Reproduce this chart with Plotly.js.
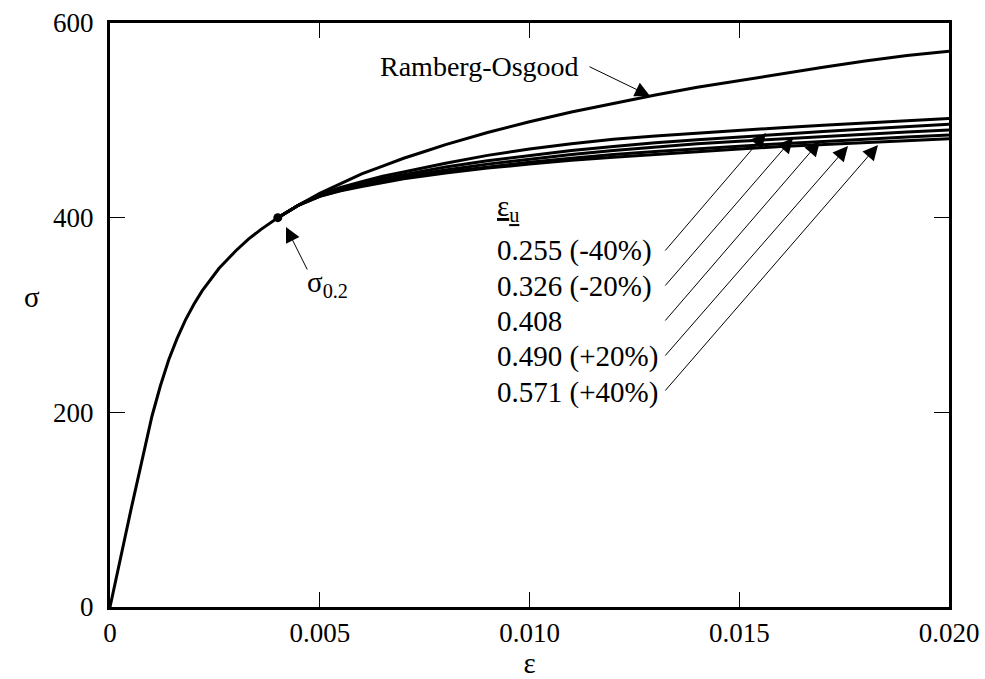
<!DOCTYPE html>
<html>
<head>
<meta charset="utf-8">
<script src="https://cdn.plot.ly/plotly-3.0.1.min.js"></script>
<style>html,body{margin:0;padding:0;background:#fff;}</style>
</head>
<body>
<div id="chart" style="width:985px;height:679px;"></div>
<script>
// Ramberg-Osgood curve (strain, stress)
const epsRO = [0, 0.0005, 0.001, 0.0012, 0.0014, 0.0016, 0.0018, 0.002, 0.0022, 0.0024, 0.0026, 0.0028, 0.003, 0.0033, 0.0036, 0.004, 0.0045, 0.005, 0.0055, 0.006, 0.0065, 0.007, 0.0075, 0.008, 0.009, 0.010, 0.011, 0.012, 0.013, 0.014, 0.015, 0.016, 0.017, 0.018, 0.019, 0.020];
const sigRO = [0, 100, 196, 227, 254, 276, 295, 311, 325, 337, 348, 357, 366, 378, 388, 400, 413, 425, 435, 445, 453, 461, 468, 475, 487.5, 498.5, 508.5, 517.5, 526, 534, 541, 548, 554.5, 561, 566.5, 571];

// Curves for different eps_u (shared strain grid)
const epsU = [0.004, 0.0045, 0.005, 0.0055, 0.006, 0.0065, 0.007, 0.008, 0.009, 0.010, 0.011, 0.012, 0.013, 0.014, 0.015, 0.016, 0.017, 0.018, 0.019, 0.020];
const sigA = [400, 413, 424, 431, 437, 442.5, 447, 456, 464, 470.5, 476, 480.5, 484, 487, 490, 492.5, 495, 497.5, 500, 502];
const sigB = [400, 413, 423, 430, 435, 440, 444, 452, 458.5, 464, 469, 473, 477, 480, 483, 486, 488.5, 491, 493.5, 496];
const sigC = [400, 413, 423, 429, 434, 438.5, 442, 449, 455, 460, 465, 469, 472.5, 476, 478.5, 481, 483.5, 486, 488, 490];
const sigD = [400, 413, 422, 428, 433, 437, 441, 447, 452, 457, 461, 465, 468, 471, 473.5, 476, 478.5, 481, 483, 485];
const sigE = [400, 413, 422, 427.5, 432, 436, 440, 446, 451, 455, 459, 462, 465, 468, 470.5, 473, 475, 477, 479, 481];

// 0.2% proof stress point
const proofEps = [0.004];
const proofSig = [400];

// Labels
const epsULabels = ["0.255 (-40%)", "0.326 (-20%)", "0.408", "0.490 (+20%)", "0.571 (+40%)"];
const xTickVals = [0, 0.005, 0.010, 0.015, 0.020];
const xTickText = ["0", "0.005", "0.010", "0.015", "0.020"];
const yTickVals = [0, 200, 400, 600];
const yTickText = ["0", "200", "400", "600"];

const FONT = "Liberation Serif, Times New Roman, serif";
const lineStyle = {color: "#000", width: 3};

const traces = [
  {x: epsRO, y: sigRO, mode: "lines", line: lineStyle, hoverinfo: "skip"},
  {x: epsU, y: sigA, mode: "lines", line: lineStyle, hoverinfo: "skip"},
  {x: epsU, y: sigB, mode: "lines", line: lineStyle, hoverinfo: "skip"},
  {x: epsU, y: sigC, mode: "lines", line: lineStyle, hoverinfo: "skip"},
  {x: epsU, y: sigD, mode: "lines", line: lineStyle, hoverinfo: "skip"},
  {x: epsU, y: sigE, mode: "lines", line: lineStyle, hoverinfo: "skip"},
  {x: proofEps, y: proofSig, mode: "markers", marker: {color: "#000", size: 9}, hoverinfo: "skip"}
];

// pixel helpers for annotation placement (plot area 110..949 x, 23..607 y)
function ex(px) { return (px - 110) / 41950; }
function sy(py) { return (607 - py) / 0.97333; }

const annotations = [];
function arrow(hx, hy, tx, ty) {
  annotations.push({
    x: ex(hx), y: sy(hy), xref: "x", yref: "y",
    ax: ex(tx), ay: sy(ty), axref: "x", ayref: "y",
    text: "", showarrow: true, arrowhead: 2, arrowsize: 3, arrowwidth: 1,
    arrowcolor: "#000", standoff: 0, startstandoff: 0
  });
}
function label(text, px, py, anchor, size) {
  annotations.push({
    x: ex(px), y: sy(py), xref: "x", yref: "y", text: text, showarrow: false,
    xanchor: anchor, yanchor: "middle", font: {family: FONT, size: size, color: "#000"}
  });
}

// Ramberg-Osgood label + arrow
label("Ramberg-Osgood", 479, 66, "center", 28);
arrow(650, 96, 588, 66);
// sigma_0.2
label("σ<sub>0.2</sub>", 305, 284, "left", 29);
arrow(286, 227, 308, 271);
// eps_u header
label("<u>ε<sub>u</sub></u>", 495, 208, "left", 29);
const labelY = [250, 286, 321, 356, 392];
const headX = [766, 793, 820, 848, 878];
const headY = [133, 138, 141, 146, 145];
const tailY = [252, 287, 322, 357, 392];
for (let i = 0; i < epsULabels.length; i++) {
  label(epsULabels[i], 495, labelY[i], "left", 29);
  arrow(headX[i], headY[i], 664, tailY[i]);
}
// y-axis title (upright sigma)
annotations.push({
  x: -0.093, y: 0.53, xref: "paper", yref: "paper", text: "σ", showarrow: false,
  xanchor: "center", yanchor: "middle", font: {family: FONT, size: 29, color: "#000"}
});

const axisCommon = {
  showline: true, linewidth: 3, linecolor: "#000", mirror: "ticks",
  ticks: "inside", ticklen: 15, tickwidth: 1, tickcolor: "#000",
  showgrid: false, zeroline: false,
  tickfont: {family: FONT, size: 27, color: "#000"}
};

const layout = {
  width: 985, height: 679,
  margin: {l: 110, r: 36, t: 23, b: 72},
  paper_bgcolor: "#fff", plot_bgcolor: "#fff",
  showlegend: false,
  xaxis: Object.assign({}, axisCommon, {
    range: [0, 0.02], tickmode: "array", tickvals: xTickVals, ticktext: xTickText,
    title: {text: "ε", font: {family: FONT, size: 29, color: "#000"}, standoff: 2}
  }),
  yaxis: Object.assign({}, axisCommon, {
    range: [0, 600], tickmode: "array", tickvals: yTickVals, ticktext: yTickText,
    ticklabelstandoff: 8
  }),
  annotations: annotations
};

Plotly.newPlot("chart", traces, layout, {displayModeBar: false, staticPlot: true});
</script>
</body>
</html>
